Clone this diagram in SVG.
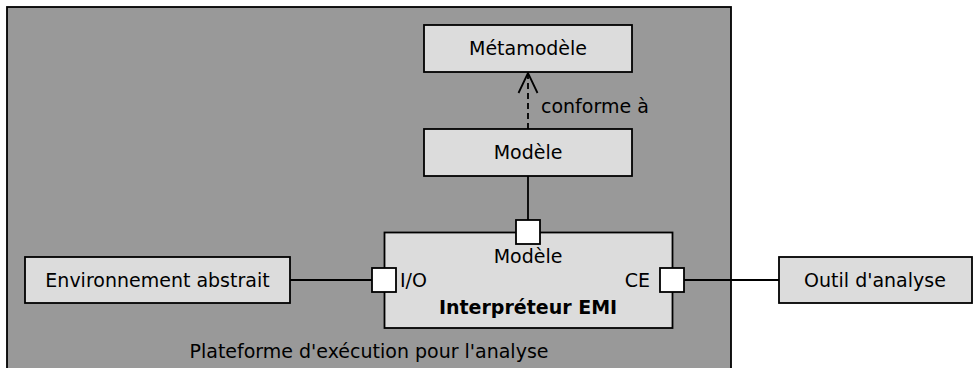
<svg xmlns="http://www.w3.org/2000/svg" width="974" height="368" viewBox="0 0 974 368">
<style>
text{font-family:"DejaVu Sans",sans-serif;font-size:19px;fill:#000}
.box{fill:#dcdcdc;stroke:#000;stroke-width:1.8}
.port{fill:#fff;stroke:#000;stroke-width:1.8}
.c{stroke:#000;stroke-width:1.8;fill:none}
</style>
<defs>
<marker id="open" viewBox="0 0 24 24" refX="22" refY="12" markerWidth="24" markerHeight="24" markerUnits="userSpaceOnUse" orient="auto">
<path d="M2,2.5 L22,12 L2,21.5" fill="none" stroke="#000" stroke-width="1.8"/>
</marker>
</defs>
<g id="plateforme">
<rect x="7" y="7" width="724" height="370" fill="#999999" stroke="#000" stroke-width="1.8"/>
<text x="369" y="358" text-anchor="middle">Plateforme d'exécution pour l'analyse</text>
</g>
<g id="connectors">
<line class="c" x1="528" y1="129" x2="528" y2="73" stroke-dasharray="6,4" marker-end="url(#open)"/>
<line class="c" x1="528" y1="176" x2="528" y2="220"/>
<line class="c" x1="290" y1="280" x2="372" y2="280"/>
<line class="c" x1="684" y1="280" x2="779" y2="280"/>
<text x="541" y="113">conforme à</text>
</g>
<g id="metamodele">
<rect class="box" x="424" y="25" width="208" height="47"/>
<text x="528" y="55" text-anchor="middle">Métamodèle</text>
</g>
<g id="modele">
<rect class="box" x="424" y="129" width="208" height="47"/>
<text x="528" y="159" text-anchor="middle">Modèle</text>
</g>
<g id="interpreteur">
<rect class="box" x="384.5" y="232.5" width="288" height="95.5"/>
<text x="528" y="263" text-anchor="middle">Modèle</text>
<text x="400" y="287">I/O</text>
<text x="650" y="287" text-anchor="end">CE</text>
<text x="528" y="314" text-anchor="middle" font-weight="bold">Interpréteur EMI</text>
<rect class="port" x="516" y="220" width="24" height="24"/>
<rect class="port" x="372" y="268" width="24" height="24"/>
<rect class="port" x="660" y="268" width="24" height="24"/>
</g>
<g id="environnement">
<rect class="box" x="25" y="257" width="265" height="46"/>
<text x="157.5" y="287" text-anchor="middle">Environnement abstrait</text>
</g>
<g id="outil">
<rect class="box" x="779" y="257" width="193" height="46"/>
<text x="875" y="287" text-anchor="middle">Outil d'analyse</text>
</g>
</svg>
